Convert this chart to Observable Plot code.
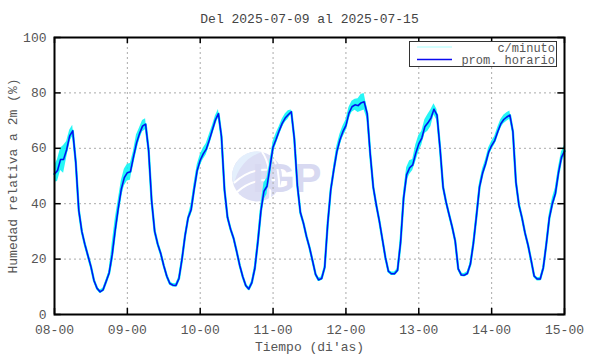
<!DOCTYPE html>
<html><head><meta charset="utf-8">
<script src="https://cdn.jsdelivr.net/npm/d3@7"></script>
<script src="https://cdn.jsdelivr.net/npm/@observablehq/plot@0.6"></script>
<style>
html,body{margin:0;padding:0;background:#fff;}
#chart{position:relative;width:590px;height:354px;}
</style></head><body><div id="chart"></div>
<script>
const title = "Del 2025-07-09 al 2025-07-15";
const xLabel = "Tiempo (di'as)";
const yLabel = "Humedad relativa a 2m (%)";
const dayLabels = ["08-00","09-00","10-00","11-00","12-00","13-00","14-00","15-00"];
const dayTicks = [0,24,48,72,96,120,144,168];
const yTicks = [0,20,40,60,80,100];
const seriesNames = ["c/minuto","prom. horario"];

// hourly mean relative humidity (%), hour 0 = 08-00
const hourlyRH = [
  50.7,52,56,56,59.5,64.5,66.3,55,37.6,30,25.3,21.3,17.3,12.3,9.5,8.2,8.9,11.9,15,21.6,30.5,38.3,45.2,49.4,
  51.2,51.5,56.8,61.8,65.3,68,68.7,59.3,41,30,25.4,22,17.6,13.8,11.2,10.6,10.5,13,20,28.4,34.8,37.8,45.3,52,
  55.7,58,59.7,63,66.6,70.2,72.5,64.2,45,35,30.8,27.5,22.8,17.8,13.7,10.5,9.2,11.5,16.7,26.3,37.4,44.5,46.3,53.4,
  60.5,63.3,66.3,69,70.9,72.1,73.2,63.5,46.6,36.8,33,28.2,24.2,19.4,14.5,12.5,13,17,32.8,45,52.2,58.7,63,66,
  68.2,72.7,75,75.7,75.4,76.4,76.8,72.5,58,46,39.5,33.8,27.2,20.6,15.6,14.7,14.7,16,26,42,50.5,53,54,58.2,
  61.6,63.7,67.8,69.2,70.9,74.1,72,60,46,40.5,36,31.6,26.5,16.5,14.3,14.2,14.8,18.2,25.8,35.6,46,51,54.4,58.6,
  61,62.8,66,68.8,70.4,71.3,72,66,47.8,39.5,34.9,29.4,25,19.6,13.9,12.8,12.8,16.8,25.3,34.8,40,43.7,51,56.7,
  59
];
// half-range of the per-minute readings around each hourly value (%)
const minuteSpread = [
  3,4,4,5,3,2,2,0.6,0.6,0.6,0.6,1,0.6,0.6,0.6,0.6,0.6,0.6,0.6,4,4,3,3,3,
  3,3,2,3,2,2,2,0.6,0.6,0.6,0.6,0.6,0.6,0.6,0.6,0.6,0.6,0.6,0.6,0.6,0.6,2,2,2,
  2,2,2,2,1.5,1.5,1.5,0.6,0.6,0.6,0.6,0.6,0.6,0.6,0.6,0.6,0.6,0.6,1.5,2,2.5,3,3,2,
  2,2,1.5,1.5,1.5,1.5,0.6,0.6,0.6,0.6,0.6,0.6,0.6,0.6,0.6,0.6,0.6,0.6,0.6,0.6,1.5,2,2,2,
  2,2,2,2,2.5,3,3,2,0.6,0.6,0.6,0.6,0.6,0.6,0.6,0.6,0.6,0.6,1.5,2,2.5,2.5,2,3,
  3,2.5,2.5,3,3,2,2,0.6,0.6,0.6,0.6,0.6,0.6,0.6,0.6,0.6,0.6,0.6,1.5,1.5,1.5,1.5,1.5,1.5,
  1.5,1.5,1.5,1.5,1.5,1.5,1.5,0.6,0.6,0.6,0.6,0.6,0.6,0.6,0.6,0.6,0.6,0.6,0.6,1.5,2,2,2,2,
  2
];

const rows = hourlyRH.map((v, i) => ({h: i, rh: v, lo: v - minuteSpread[i], hi: v + minuteSpread[i]}));
const font = "'Liberation Mono','DejaVu Sans Mono',monospace";
const textColor = "#555";
const cyan = "#00f4f4";
const blue = "#0a0af0";

const plot = Plot.plot({
  width: 590, height: 354,
  marginLeft: 54, marginRight: 26, marginTop: 37, marginBottom: 40,
  style: {fontFamily: font, fontSize: "13px", color: textColor, background: "#fff"},
  x: {domain: [0, 168], label: null},
  y: {domain: [0, 100], label: null},
  marks: [
    Plot.ruleX(dayTicks.slice(1, -1), {stroke: "#aaa", strokeDasharray: "2,3", strokeWidth: 1}),
    Plot.ruleY(yTicks.slice(1, -1), {stroke: "#aaa", strokeDasharray: "2,3", strokeWidth: 1}),
    Plot.areaY(rows, {x: "h", y1: "lo", y2: "hi", fill: cyan, fillOpacity: 0.85}),
    Plot.line(rows, {x: "h", y: "rh", stroke: cyan, strokeWidth: 2.4}),
    Plot.line(rows, {x: "h", y: "rh", stroke: blue, strokeWidth: 1.5}),
    Plot.ruleX(dayTicks, {y1: 0, y2: 2.2, stroke: "#000", strokeWidth: 1.5}),
    Plot.ruleX(dayTicks, {y1: 97.8, y2: 100, stroke: "#000", strokeWidth: 1.5}),
    Plot.ruleY(yTicks, {x1: 0, x2: 2.2, stroke: "#000", strokeWidth: 1.5}),
    Plot.ruleY(yTicks, {x1: 165.8, x2: 168, stroke: "#000", strokeWidth: 1.5}),
    Plot.axisX({ticks: dayTicks, tickFormat: d => dayLabels[dayTicks.indexOf(d)], tickSize: 0, tickPadding: 10, fill: textColor, fontSize: 13, label: null}),
    Plot.axisY({ticks: yTicks, tickSize: 0, tickPadding: 8, fill: textColor, fontSize: 13, label: null}),
    Plot.frame({stroke: "#000", strokeWidth: 2}),
    Plot.text([title], {text: d => d, frameAnchor: "top", lineAnchor: "middle", textAnchor: "middle", dy: -19, fontSize: 13, fill: "#444"}),
    Plot.text([xLabel], {text: d => d, frameAnchor: "bottom", lineAnchor: "middle", textAnchor: "middle", dy: 32, fontSize: 13, fill: textColor}),
    Plot.text([yLabel], {text: d => d, frameAnchor: "left", lineAnchor: "middle", textAnchor: "middle", rotate: -90, dx: -42, fontSize: 13, fill: textColor})
  ]
});

const svg = d3.select(plot);
// watermark (IGP logo), drawn beneath everything
const wm = svg.insert("g", ":first-child");
wm.append("circle").attr("cx", 257).attr("cy", 176.5).attr("r", 25).attr("fill", "#dcdef4");
wm.append("path").attr("d", "M232,176 A25,25 0 0 1 257,151.5 L262,152 A40,40 0 0 0 234,185 Z").attr("fill", "#e4effc");
wm.append("path").attr("d", "M234,183 Q250,168 270,170").attr("stroke", "#fff").attr("stroke-width", 2).attr("fill", "none");
wm.append("path").attr("d", "M237,192 Q252,178 275,180").attr("stroke", "#fff").attr("stroke-width", 2).attr("fill", "none");
wm.append("path").attr("d", "M262,152 Q272,165 270,200").attr("stroke", "#fff").attr("stroke-width", 2).attr("fill", "none");
wm.append("path").attr("d", "M272,156 Q280,168 279,190").attr("stroke", "#fff").attr("stroke-width", 2).attr("fill", "none");
wm.append("text").attr("x", 287).attr("y", 192).attr("font-family", "'Liberation Sans',Arial,sans-serif")
  .attr("font-weight", "bold").attr("font-size", 40).attr("fill", "#d8d9f1").text("IGP");

// legend
const lg = svg.append("g").attr("font-family", font).attr("font-size", 12).attr("fill", textColor);
lg.append("rect").attr("x", 409.5).attr("y", 41.5).attr("width", 147).attr("height", 25).attr("fill", "#fff").attr("stroke", "#333");
lg.append("line").attr("x1", 417).attr("x2", 452).attr("y1", 47).attr("y2", 47).attr("stroke", "#aaffff").attr("stroke-width", 1);
lg.append("line").attr("x1", 417).attr("x2", 452).attr("y1", 59.5).attr("y2", 59.5).attr("stroke", blue).attr("stroke-width", 1.5);
lg.append("text").attr("x", 555).attr("y", 51.5).attr("text-anchor", "end").text(seriesNames[0]);
lg.append("text").attr("x", 555).attr("y", 63.5).attr("text-anchor", "end").text(seriesNames[1]);

document.getElementById("chart").appendChild(plot);
</script></body></html>
